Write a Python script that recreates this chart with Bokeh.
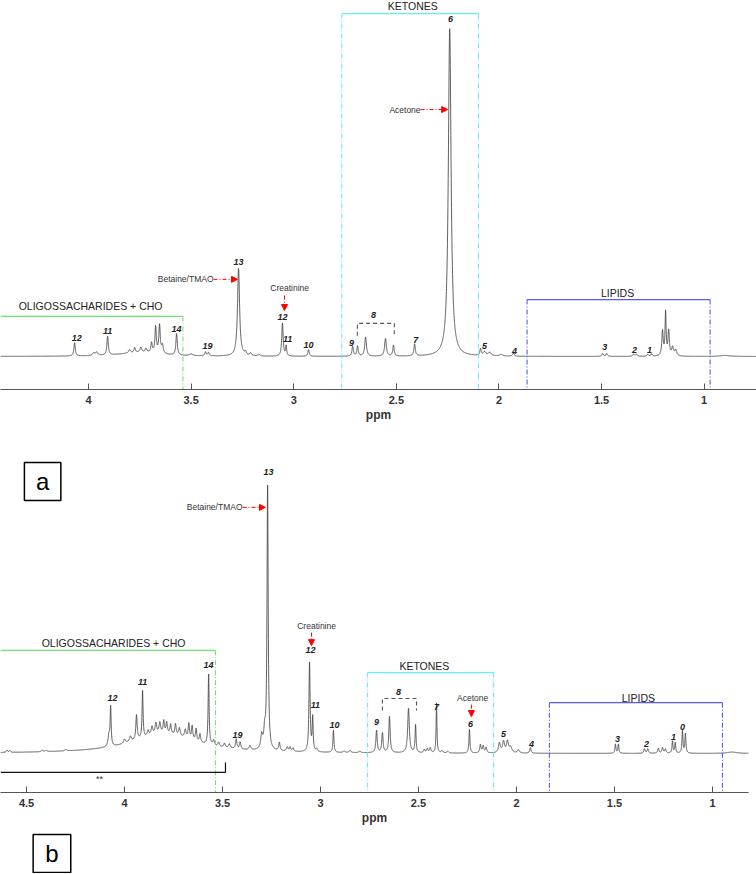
import numpy as np
from bokeh.plotting import figure
from bokeh.models import (Range1d, Label, Arrow, NormalHead, BoxAnnotation,
                          ColumnDataSource, FixedTicker, NumeralTickFormatter)
from bokeh.layouts import column
from bokeh.core.properties import value
from bokeh.embed import file_html
from bokeh.resources import INLINE

FONT = "Liberation Sans"

# ---------------- panel a: peaks (ppm, height, half-width) ----------------
A_PEAKS = [
    (4.068, 4.0, 0.004), (3.975, 0.8, 0.006), (3.96, 1.0, 0.006), (3.907, 5.7, 0.004),
    (3.80, 1.0, 0.005), (3.775, 1.5, 0.004), (3.745, 1.5, 0.005), (3.72, 1.2, 0.005),
    (3.693, 3.0, 0.004), (3.673, 8.0, 0.004), (3.654, 8.5, 0.004), (3.64, 2.5, 0.005),
    (3.571, 6.5, 0.004), (3.50, 0.5, 0.01), (3.43, 1.2, 0.004), (3.415, 1.0, 0.004),
    (3.269, 26.5, 0.006), (3.235, 1.0, 0.005), (3.21, 0.8, 0.005), (3.17, 0.6, 0.005),
    (3.055, 10.0, 0.004), (3.037, 3.0, 0.003), (2.928, 2.0, 0.004),
    (2.713, 3.0, 0.004), (2.689, 3.0, 0.004), (2.65, 5.8, 0.005), (2.553, 5.3, 0.005),
    (2.514, 3.3, 0.004), (2.411, 3.6, 0.004), (2.24, 99.0, 0.008),
    (2.09, 2.0, 0.004), (2.07, 1.2, 0.008), (2.045, 1.0, 0.008), (1.99, 0.5, 0.01),
    (1.93, 0.9, 0.005), (1.495, 0.9, 0.004), (1.475, 0.9, 0.004), (1.344, 0.6, 0.005),
    (1.33, 0.6, 0.005), (1.275, 0.6, 0.004), (1.256, 0.7, 0.004), (1.203, 7.5, 0.004),
    (1.188, 13.0, 0.003), (1.173, 7.5, 0.004), (1.154, 2.5, 0.005), (1.139, 1.8, 0.006),
    (0.90, 0.3, 0.03), (3.75, 1.2, 0.12),
]
A_XRANGE = (4.429, 0.745)
A_YRANGE = (-9.97, 107.55)
A_TICKS = [4, 3.5, 3, 2.5, 2, 1.5, 1]

A_LABELS = ["12", "11", "14", "19", "13", "12", "11", "10", "9", "8", "7", "6", "5", "4", "3", "2", "1"]
A_LAB_X = [4.058, 3.907, 3.571, 3.42, 3.269, 3.055, 3.030, 2.928, 2.718, 2.611, 2.406, 2.236, 2.07, 1.924, 1.485, 1.339, 1.266]
A_LAB_Y = [5.7, 7.6, 8.2, 3.3, 28.4, 11.8, 5.4, 3.6, 4.2, 12.4, 5.1, 102.0, 3.3, 1.8, 3.0, 2.1, 2.1]

A_REGION_TEXT = ["OLIGOSSACHARIDES + CHO", "KETONES", "LIPIDS"]
A_REGION_X = [3.99, 2.42, 1.422]
A_REGION_Y = [15.4, 106.0, 19.3]
A_REGION_LEFT = [4.429, 2.766, 1.863]
A_REGION_RIGHT = [3.54, 2.10, 0.971]
A_REGION_TOP = [12.1, 103.6, 17.2]

A_BRACKET8 = (2.69, 2.51, 10.0, 6.3)

# ---------------- panel b: peaks ----------------
B_PEAKS = [
    (4.60, 0.8, 0.004), (4.585, 0.6, 0.004), (4.42, 0.5, 0.005), (4.40, 0.5, 0.005),
    (4.30, 0.5, 0.006), (4.08, 4.0, 0.005), (4.071, 14.0, 0.003), (4.00, 1.5, 0.006),
    (3.97, 2.0, 0.006), (3.939, 9.0, 0.004), (3.908, 17.0, 0.003), (3.88, 2.0, 0.005),
    (3.86, 3.0, 0.005), (3.84, 4.0, 0.005), (3.82, 4.0, 0.005), (3.80, 4.5, 0.004),
    (3.785, 4.0, 0.004), (3.765, 3.5, 0.004), (3.74, 4.0, 0.004), (3.72, 3.0, 0.005),
    (3.69, 3.0, 0.005), (3.672, 5.5, 0.004), (3.655, 5.0, 0.004), (3.635, 4.5, 0.004),
    (3.615, 3.0, 0.004), (3.571, 25.5, 0.003), (3.545, 2.0, 0.005), (3.52, 1.5, 0.005),
    (3.49, 1.5, 0.005), (3.465, 1.5, 0.005), (3.43, 3.5, 0.004), (3.41, 2.5, 0.004),
    (3.36, 1.5, 0.005), (3.30, 5.0, 0.006), (3.285, 6.0, 0.005), (3.27, 95.0, 0.0035),
    (3.21, 3.0, 0.004), (3.17, 1.5, 0.005), (3.155, 1.5, 0.004), (3.14, 1.2, 0.004),
    (3.056, 32.0, 0.0035), (3.04, 12.0, 0.003), (3.02, 1.0, 0.004), (2.934, 8.0, 0.003),
    (2.88, 0.6, 0.005), (2.85, 0.8, 0.005), (2.80, 0.6, 0.005), (2.714, 8.0, 0.004),
    (2.684, 7.0, 0.004), (2.648, 13.0, 0.004), (2.551, 16.0, 0.005), (2.515, 10.0, 0.003),
    (2.47, 1.2, 0.004), (2.455, 1.5, 0.004), (2.44, 1.8, 0.004), (2.408, 18.0, 0.0025),
    (2.38, 0.8, 0.005), (2.35, 0.6, 0.005), (2.24, 8.5, 0.003), (2.184, 3.0, 0.004),
    (2.17, 2.5, 0.004), (2.155, 2.0, 0.004), (2.087, 3.5, 0.006), (2.066, 4.0, 0.006),
    (2.046, 4.0, 0.006), (2.03, 2.0, 0.008), (1.99, 1.2, 0.006), (1.929, 2.0, 0.004),
    (1.495, 3.3, 0.003), (1.48, 3.3, 0.003), (1.347, 1.6, 0.004), (1.33, 1.6, 0.004),
    (1.276, 1.8, 0.004), (1.255, 2.0, 0.004), (1.24, 1.5, 0.004), (1.204, 4.3, 0.003),
    (1.19, 3.7, 0.003), (1.153, 8.0, 0.003), (1.138, 7.0, 0.003), (0.90, 0.5, 0.03),
    (3.80, 7.0, 0.2),
]
B_XRANGE = (4.633, 0.816)
B_YRANGE = (-14.0, 116.5)
B_TICKS = [4.5, 4, 3.5, 3, 2.5, 2, 1.5, 1]

B_LABELS = ["12", "11", "14", "19", "13", "12", "11", "10", "9", "8", "7", "6", "5", "4", "3", "2", "1", "0"]
B_LAB_X = [4.061, 3.908, 3.571, 3.423, 3.265, 3.051, 3.026, 2.929, 2.714, 2.602, 2.408, 2.235, 2.066, 1.923, 1.485, 1.337, 1.199, 1.153]
B_LAB_Y = [20.1, 25.9, 32.0, 6.8, 101.4, 37.1, 17.3, 10.4, 11.2, 22.3, 16.9, 10.8, 7.2, 3.6, 5.4, 3.6, 5.8, 9.7]

B_REGION_TEXT = ["OLIGOSSACHARIDES + CHO", "KETONES", "LIPIDS"]
B_REGION_X = [4.056, 2.47, 1.378]
B_REGION_Y = [39.9, 31.3, 20.1]
B_REGION_LEFT = [4.633, 2.76, 1.832]
B_REGION_RIGHT = [3.536, 2.117, 0.949]
B_REGION_TOP = [37.1, 29.1, 18.3]

B_BRACKET8 = (2.684, 2.51, 19.8, 15.5)

REGION_COLORS = ["#6fe36f", "#66eef2", "#5a5af0"]

# annotation arrows: (text, text_x, text_y, align, x0, y0, x1, y1)
A_ANNOT = [
    ("Betaine/TMAO", 3.391, 23.3, "right", 3.391, 23.3, 3.274, 23.3),
    ("Creatinine", 3.02, 20.6, "center", 3.045, 18.4, 3.045, 13.9),
    ("Acetone", 2.382, 74.6, "right", 2.382, 74.6, 2.25, 74.6),
]
B_ANNOT = [
    ("Betaine/TMAO", 3.398, 88.5, "right", 3.398, 88.5, 3.281, 88.5),
    ("Creatinine", 3.02, 45.9, "center", 3.046, 43.5, 3.046, 38.8),
    ("Acetone", 2.224, 20.1, "center", 2.23, 17.6, 2.23, 13.3),
]


def spectrum(peaks, xr, n=8000):
    x = np.linspace(min(xr), max(xr), n)
    y = np.zeros_like(x)
    for c, h, w in peaks:
        y += h / (1.0 + ((x - c) / w) ** 2)
    return x, y


def make_fig(xr, yr, fw, fh, bb, br, ticks):
    p = figure(frame_width=fw, frame_height=fh, x_range=Range1d(*xr), y_range=Range1d(*yr),
               output_backend="svg", toolbar_location=None, y_axis_location=None,
               min_border_left=0, min_border_right=br, min_border_top=0, min_border_bottom=bb,
               background_fill_color="white", border_fill_color="white")
    p.grid.visible = False
    p.outline_line_color = None
    ax = p.xaxis[0]
    ax.ticker = FixedTicker(ticks=ticks)
    ax.formatter = NumeralTickFormatter(format="0.[0]")
    ax.major_tick_in = 6
    ax.major_tick_out = 0
    ax.minor_tick_in = 0
    ax.minor_tick_out = 0
    ax.axis_line_color = "#555555"
    ax.major_tick_line_color = "#555555"
    ax.major_label_text_font = FONT
    ax.major_label_text_font_size = "11px"
    ax.major_label_text_font_style = "bold"
    ax.major_label_text_color = "#333333"
    ax.major_label_standoff = 6
    ax.axis_label = "ppm"
    ax.axis_label_text_font = FONT
    ax.axis_label_text_font_size = "12px"
    ax.axis_label_text_font_style = "bold"
    ax.axis_label_text_color = "#333333"
    ax.axis_label_standoff = 1
    return p


def decorate(p, peaks, xr, yr, labels, lx, ly, rtext, rx, ry, rl, rr, rt, br8, annots):
    x, y = spectrum(peaks, xr)
    p.line(x, y, line_color="#444444", line_width=0.85)
    ymin = yr[0]
    for i in range(3):
        c = REGION_COLORS[i]
        p.line([rl[i], rr[i]], [rt[i], rt[i]], line_color=c, line_width=1.3)
        p.line([rr[i], rr[i]], [rt[i], ymin], line_color=c, line_width=1.1, line_dash="5 2 1 2")
        if rl[i] < max(xr) - 1e-6:
            p.line([rl[i], rl[i]], [rt[i], ymin], line_color=c, line_width=1.1, line_dash="5 2 1 2")
    src = ColumnDataSource(dict(x=rx, y=ry, t=rtext))
    p.text(x="x", y="y", text="t", source=src, text_font=value(FONT), text_font_size=value("10.5px"),
           text_color="#222222", text_align="center", text_baseline="middle")
    l8, r8, t8, b8 = br8
    p.line([l8, l8, r8, r8], [b8, t8, t8, b8], line_color="#555555", line_width=1.1, line_dash="4 3")
    src = ColumnDataSource(dict(x=lx, y=ly, t=labels))
    p.text(x="x", y="y", text="t", source=src, text_font=value(FONT), text_font_size=value("9px"),
           text_font_style=value("bold italic"), text_color="#222222",
           text_align="center", text_baseline="middle")
    for (t, tx, ty, al, x0, y0, x1, y1) in annots:
        p.add_layout(Label(x=tx, y=ty, text=t, text_font=FONT, text_font_size="8.5px",
                           text_color="#333333", text_align=al, text_baseline="middle"))
        p.add_layout(Arrow(end=NormalHead(size=6, fill_color="red", line_color="red"),
                           x_start=x0, y_start=y0, x_end=x1, y_end=y1,
                           line_color="red", line_width=1, line_dash="4 2 1 2"))


p1 = make_fig(A_XRANGE, A_YRANGE, 756, 389, 40, 0, A_TICKS)
decorate(p1, A_PEAKS, A_XRANGE, A_YRANGE, A_LABELS, A_LAB_X, A_LAB_Y,
         A_REGION_TEXT, A_REGION_X, A_REGION_Y, A_REGION_LEFT, A_REGION_RIGHT, A_REGION_TOP,
         A_BRACKET8, A_ANNOT)

p2 = make_fig(B_XRANGE, B_YRANGE, 748, 363, 40, 8, B_TICKS)
decorate(p2, B_PEAKS, B_XRANGE, B_YRANGE, B_LABELS, B_LAB_X, B_LAB_Y,
         B_REGION_TEXT, B_REGION_X, B_REGION_Y, B_REGION_LEFT, B_REGION_RIGHT, B_REGION_TOP,
         B_BRACKET8, B_ANNOT)

# "**" bracket under the oligosaccharide region
STAR_RIGHT = 3.485
p2.line([B_XRANGE[0], STAR_RIGHT, STAR_RIGHT], [-6.8, -6.8, -3.2], line_color="#111111", line_width=1.2)
p2.add_layout(Label(x=4.128, y=-9.0, text="**", text_font=FONT, text_font_size="9px",
                    text_color="#333333", text_align="center", text_baseline="middle"))

# panel letter a
p2.add_layout(BoxAnnotation(left=4.325, right=4.511, top=104.6, bottom=91.0, fill_color=None,
                            line_color="black", line_width=1.5, line_alpha=1.0))
p2.add_layout(Label(x=4.418, y=97.8, text="a", text_font=FONT, text_font_size="24px",
                    text_color="black", text_align="center", text_baseline="middle"))

# panel letter b (strip below panel b)
p3 = figure(width=756, height=41, x_range=Range1d(0, 756), y_range=Range1d(0, 41),
            output_backend="svg", toolbar_location=None, x_axis_location=None, y_axis_location=None,
            min_border_left=0, min_border_right=0, min_border_top=0, min_border_bottom=0,
            background_fill_color="white", border_fill_color="white")
p3.grid.visible = False
p3.outline_line_color = None
p3.add_layout(BoxAnnotation(left=33, right=71, top=39, bottom=1, fill_color=None,
                            line_color="black", line_width=1.5, line_alpha=1.0))
p3.add_layout(Label(x=52, y=20, text="b", text_font=FONT, text_font_size="24px",
                    text_color="black", text_align="center", text_baseline="middle"))

layout = column(p1, p2, p3)
open("out.html", "w").write(file_html(layout, INLINE))
